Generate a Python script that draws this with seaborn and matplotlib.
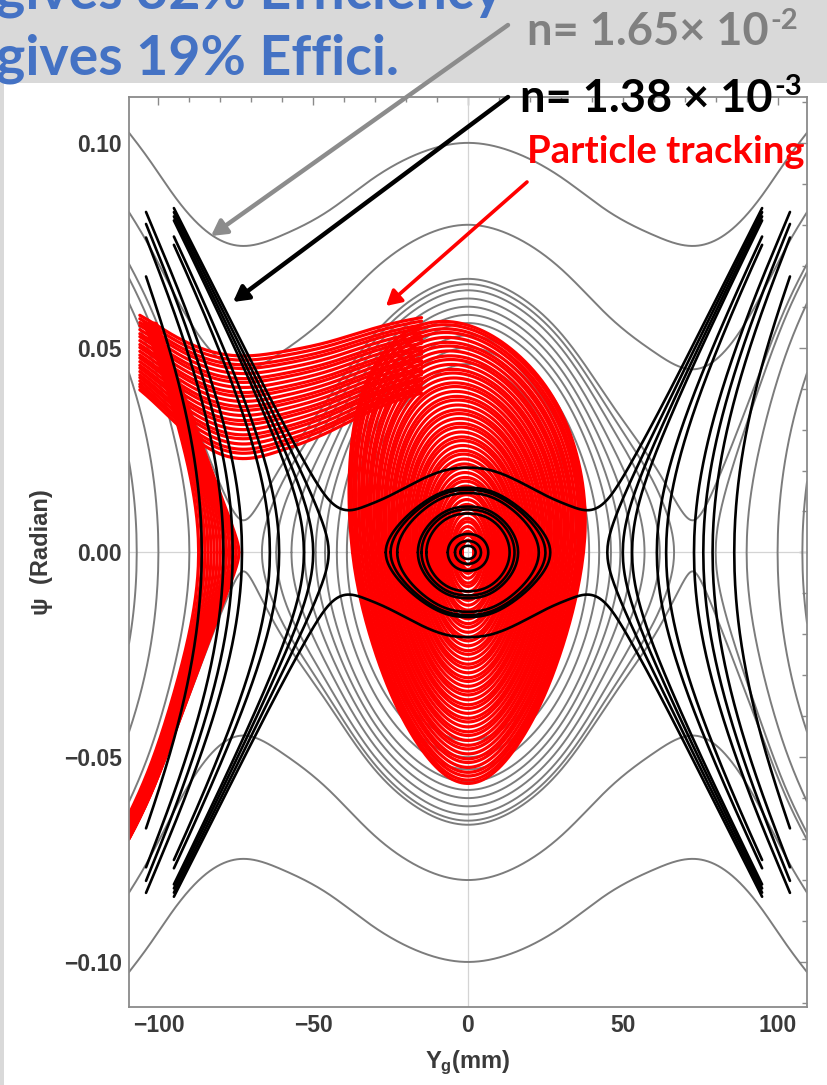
import numpy as np
import pandas as pd
import seaborn as sns
import matplotlib.pyplot as plt
from matplotlib.ticker import MultipleLocator, FuncFormatter
from matplotlib.patches import Rectangle, FancyArrowPatch

# ---------------- potential profiles: H = psi^2/2 + V(Y) ----------------
# n = 1.65e-2 (gray trajectories)
gray_Y = [0, 15, 30, 45, 60, 73, 85, 95, 103, 110]
gray_V = [0, 2.3e-4, 8.0e-4, 1.52e-3, 2.00e-3, 2.20e-3, 1.90e-3, 1.20e-3,
          0.40e-3, -0.30e-3]
# n = 1.38e-3 (black trajectories)
black_Y = [0, 6.5, 15, 25, 33, 40, 46, 55, 64, 75, 83, 95, 105, 110]
black_V = [0, 1.0e-5, 5.5e-5, 1.17e-4, 1.50e-4, 1.60e-4, 1.19e-4, -0.99e-4,
           -5.0e-4, -1.25e-3, -1.97e-3, -3.32e-3, -4.70e-3, -5.50e-3]
# tracked particles, trapped core
red_Y = [0, 10, 20, 30, 37, 45]
red_V = [0, 1.3e-4, 5.0e-4, 1.07e-3, 1.57e-3, 2.1e-3]

# ---------------- trajectory levels ----------------
gray_open_psi = [0.100, 0.080, -0.100, -0.080, 0.0668, -0.0665]
gray_closed_psi = [0.046, 0.050, 0.053, 0.056, 0.058, 0.060, 0.062, 0.064,
                   0.0655]
gray_outer_turn = [80, 90, 100, 108, -83, -90, -100, -107]

black_ring_psi = [0.0016, 0.0028, 0.0045, 0.0095, 0.0105, 0.0112, 0.0145,
                  0.0153, 0.0158]
black_eye_psi = [0.0207, -0.0207]
black_eye_end = 95
black_outer_turn = [45, 50, 53, 61, 64, 73, 76, 79, 86]
black_outer_end = [95, 95, 95, 95, 95, 104, 104, 104, 104]

# trapped tracked orbits, labelled by psi at Y = 0
red_loop_psi = [0.003, 0.0042, 0.0051, 0.0063, 0.0075, 0.0083, 0.0096,
                0.0108, 0.0117, 0.0129, 0.0141, 0.0150, 0.0162, 0.0174,
                0.0183, 0.0195, 0.0207, 0.0216, 0.0228, 0.0240, 0.0249,
                0.0261, 0.0273, 0.0282, 0.0294, 0.0306, 0.0315, 0.0327,
                0.0339, 0.0348, 0.0360, 0.0372, 0.0381, 0.0393, 0.0405,
                0.0414, 0.0426, 0.0438, 0.0447, 0.0459, 0.0471, 0.0480,
                0.0492, 0.0504, 0.0513, 0.0525, 0.0537, 0.0546, 0.0556,
                0.0564]
red_loop_tilt = 4.0
# incoming tracked stream, labelled by psi at Y = -60 mm
red_stream_psi = [0.025, 0.0262, 0.0271, 0.0283, 0.0295, 0.0304, 0.0316,
                  0.0328, 0.0337, 0.0349, 0.0361, 0.037, 0.0382, 0.0394,
                  0.0403, 0.0415, 0.0427, 0.0436, 0.0448, 0.046, 0.0469,
                  0.048, 0.049]
red_arc_turn = [-87, -86, -85, -84, -83, -82, -81, -80, -79, -78, -77, -76,
                -75, -74]

x_ticks = [-100, -50, 0, 50, 100]
y_ticks = [-0.10, -0.05, 0.00, 0.05, 0.10]

# ---------------- helpers ----------------
YG = np.round(np.arange(-1095, 1096) * 0.1, 1)


def smooth_profile(ys, vs):
    """Even natural cubic spline through the tabulated profile, on YG."""
    ys = np.asarray(ys, float)
    vs = np.asarray(vs, float)
    x = np.concatenate([-ys[:0:-1], ys])
    y = np.concatenate([vs[:0:-1], vs])
    n = len(x)
    h = np.diff(x)
    A = np.zeros((n, n))
    b = np.zeros(n)
    A[0, 0] = A[-1, -1] = 1
    for i in range(1, n - 1):
        A[i, i - 1] = h[i - 1]
        A[i, i] = 2 * (h[i - 1] + h[i])
        A[i, i + 1] = h[i]
        b[i] = 3 * ((y[i + 1] - y[i]) / h[i] - (y[i] - y[i - 1]) / h[i - 1])
    c = np.linalg.solve(A, b)
    bb = (y[1:] - y[:-1]) / h - h * (2 * c[:-1] + c[1:]) / 3
    d = (c[1:] - c[:-1]) / (3 * h)
    idx = np.clip(np.searchsorted(x, YG) - 1, 0, n - 2)
    t = YG - x[idx]
    return y[idx] + bb[idx] * t + c[idx] * t ** 2 + d[idx] * t ** 3


def orbit(V, E, seed, branch="both", lo=-109.5, hi=109.5, cap=None):
    f = E - V
    i = int(np.argmin(np.abs(YG - seed)))
    if f[i] < 0:
        return []
    l, r = i, i
    while l > 0 and f[l - 1] >= 0:
        l -= 1
    while r < len(YG) - 1 and f[r + 1] >= 0:
        r += 1
    ys = list(YG[l:r + 1])
    fs = list(f[l:r + 1])
    left_turn, right_turn = l > 0, r < len(YG) - 1
    if left_turn:
        ys.insert(0, YG[l - 1] + 0.1 * (-f[l - 1]) / (f[l] - f[l - 1]))
        fs.insert(0, 0.0)
    if right_turn:
        ys.append(YG[r] + 0.1 * f[r] / (f[r] - f[r + 1]))
        fs.append(0.0)
    ys = np.array(ys)
    p = np.sqrt(2 * np.maximum(np.array(fs), 0))
    keep = (ys >= lo) & (ys <= hi)
    if cap is not None:
        keep &= p <= cap
    ys, p = ys[keep], p[keep]
    if branch == "upper":
        return [(ys, p)]
    if branch == "lower":
        return [(ys, -p)]
    if left_turn and right_turn:
        return [(np.r_[ys, ys[::-1]], np.r_[p, -p[::-1]])]
    if left_turn:
        return [(np.r_[ys[::-1], ys], np.r_[p[::-1], -p])]
    return [(np.r_[ys, ys[::-1]], np.r_[p, -p[::-1]])]


def frame(curves):
    Ys, Ps, ids = [], [], []
    for k, (y, p) in enumerate(curves):
        Ys.append(y)
        Ps.append(p)
        ids.append(np.full(len(y), k))
    return pd.DataFrame({"Y": np.concatenate(Ys), "psi": np.concatenate(Ps),
                         "curve": np.concatenate(ids)})


def at(V, y):
    return V[int(np.argmin(np.abs(YG - y)))]


Vg = smooth_profile(gray_Y, gray_V)
Vb = smooth_profile(black_Y, black_V)
Vr = smooth_profile(red_Y, red_V)
Vs = 0.25 * Vg

# gray family
gray_curves = []
for s in gray_open_psi:
    gray_curves += orbit(Vg, s * s / 2, 0.0, "upper" if s > 0 else "lower")
for s in gray_closed_psi:
    gray_curves += orbit(Vg, s * s / 2, 0.0)
for y0 in gray_outer_turn:
    gray_curves += orbit(Vg, at(Vg, y0), y0 + np.sign(y0) * 1.0)

# black family
black_curves = []
for s in black_ring_psi:
    black_curves += orbit(Vb, s * s / 2, 0.0)
for s in black_eye_psi:
    black_curves += orbit(Vb, s * s / 2, 0.0, "upper" if s > 0 else "lower",
                          lo=-black_eye_end, hi=black_eye_end)
for y0, ye in zip(black_outer_turn, black_outer_end):
    for sgn in (1, -1):
        black_curves += orbit(Vb, at(Vb, sgn * y0), sgn * (y0 + 1.0),
                              lo=-ye, hi=ye)

# particle tracking
red_curves = []
for s in red_loop_psi:
    for y, p in orbit(Vr, s * s / 2, 0.0):
        red_curves.append((y * (1 + red_loop_tilt * p)
                           - 2500 * np.maximum(p, 0) ** 2, p))
for s in red_stream_psi:
    red_curves += orbit(Vs, s * s / 2 + at(Vs, -60), -60.0, "upper",
                        lo=-106, hi=-15)
for y0 in red_arc_turn:
    red_curves += orbit(Vg, at(Vg, y0), y0 - 1.0, "upper", cap=0.056)
    red_curves += orbit(Vg, at(Vg, y0), y0 - 1.0, "lower")

gray_df = frame(gray_curves)
black_df = frame(black_curves)
red_df = frame(red_curves)

# ---------------- figure ----------------
sns.set_theme(style="white")
plt.rcParams["font.family"] = ["Liberation Sans", "DejaVu Sans"]
plt.rcParams["font.weight"] = "bold"
plt.rcParams["mathtext.fontset"] = "custom"
plt.rcParams["mathtext.rm"] = "Liberation Sans:bold"
plt.rcParams["mathtext.bf"] = "Liberation Sans:bold"
plt.rcParams["mathtext.it"] = "Liberation Sans:italic:bold"

W, H = 827, 1085
fig = plt.figure(figsize=(W / 100, H / 100), dpi=100)
fig.patch.set_facecolor("white")


def fx(x, y):
    return (x / W, 1 - y / H)


fig.add_artist(Rectangle((0, 1 - 83 / H), 1, 83 / H, transform=fig.transFigure,
                         facecolor="#d9d9d9", edgecolor="none", zorder=-5))
fig.add_artist(Rectangle((0, 0), 4 / W, 1 - 83 / H, transform=fig.transFigure,
                         facecolor="#d9d9d9", edgecolor="none", zorder=-5))

ax = fig.add_axes([129 / W, 1 - 1007 / H, (807 - 129) / W, (1007 - 97) / H])
ax.set_facecolor("white")
ax.axvline(0, color="#d4d4d4", lw=0.9, zorder=1)
ax.axhline(0, color="#d4d4d4", lw=0.9, zorder=1)

common = dict(x="Y", y="psi", units="curve", estimator=None, sort=False,
              legend=False, ax=ax)
sns.lineplot(data=gray_df, color="#7c7c7c", lw=1.4, zorder=2, **common)
sns.lineplot(data=red_df, color="#ff0000", lw=2.3, zorder=3, **common)
sns.lineplot(data=black_df, color="#000000", lw=1.9, zorder=4, **common)

ax.set_xlim(-109.5, 109.5)
ax.set_ylim(-0.111, 0.1112)
ax.set_xticks(x_ticks)
ax.set_yticks(y_ticks)
ax.xaxis.set_minor_locator(MultipleLocator(10))
ax.yaxis.set_minor_locator(MultipleLocator(0.01))
ax.xaxis.set_major_formatter(FuncFormatter(lambda v, _: f"{v:.0f}".replace("-", "\u2212")))
ax.yaxis.set_major_formatter(FuncFormatter(lambda v, _: f"{v:.2f}".replace("-", "\u2212")))
ax.tick_params(which="both", direction="in", top=True, right=True,
               color="#8a8a8a", width=1.0)
ax.tick_params(which="major", length=6, labelsize=16.5, labelcolor="#3a3a3a", pad=5)
ax.tick_params(which="minor", length=3.5)
for sp in ax.spines.values():
    sp.set_color("#8a8a8a")
    sp.set_linewidth(1.3)
    sp.set_zorder(6)

ax.set_xlabel(r"Y$_\mathrm{g}$(mm)", fontsize=17, color="#3a3a3a",
              fontweight="bold")
ax.set_ylabel("\u03c8  (Radian)", fontsize=17, color="#3a3a3a",
              fontweight="bold")
ax.xaxis.set_label_coords(0.5, -0.046)
ax.yaxis.set_label_coords(-0.112, 0.5)

# ---------------- slide header and annotations ----------------
hdr = ["Lato", "DejaVu Sans"]
fig.text(*fx(-4, 9), "gives 32% Efficiency", family=hdr, fontsize=40,
         color="#4472c4", ha="left", va="baseline")
fig.text(*fx(-4, 75), "gives 19% Effici.", family=hdr, fontsize=40,
         color="#4472c4", ha="left", va="baseline")

n1 = fig.text(*fx(527, 45), "n= 1.65\u00d7 10", family=hdr, fontsize=32.5,
              color="#808080", ha="left", va="baseline")
n2 = fig.text(*fx(520, 112), "n= 1.38 \u00d7 10", family=hdr, fontsize=32.5,
              color="black", ha="left", va="baseline")
fig.text(*fx(527, 163), "Particle tracking", family=hdr, fontsize=27.5,
         color="#ff0000", ha="left", va="baseline")

# exponents sit right after the mantissa text
renderer = fig.canvas.get_renderer()
for base, exp, col, ybase in [(n1, "-2", "#808080", 29), (n2, "-3", "black", 95)]:
    x1 = base.get_window_extent(renderer).x1
    fig.text(x1 / W + 2 / W, 1 - ybase / H, exp, family=hdr, fontsize=21,
             color=col, ha="left", va="baseline")

for start, tip, col, lw in [((508, 25), (211, 236), "#8c8c8c", 3.2),
                            ((508, 97), (233, 302), "#000000", 3.2),
                            ((527, 182), (386, 306), "#ff0000", 2.6)]:
    fig.add_artist(FancyArrowPatch(fx(*start), fx(*tip), transform=fig.transFigure,
                                   arrowstyle="-|>,head_length=9,head_width=5",
                                   color=col, lw=lw, shrinkA=0, shrinkB=0,
                                   zorder=10))

fig.savefig("out.png", dpi=100)
